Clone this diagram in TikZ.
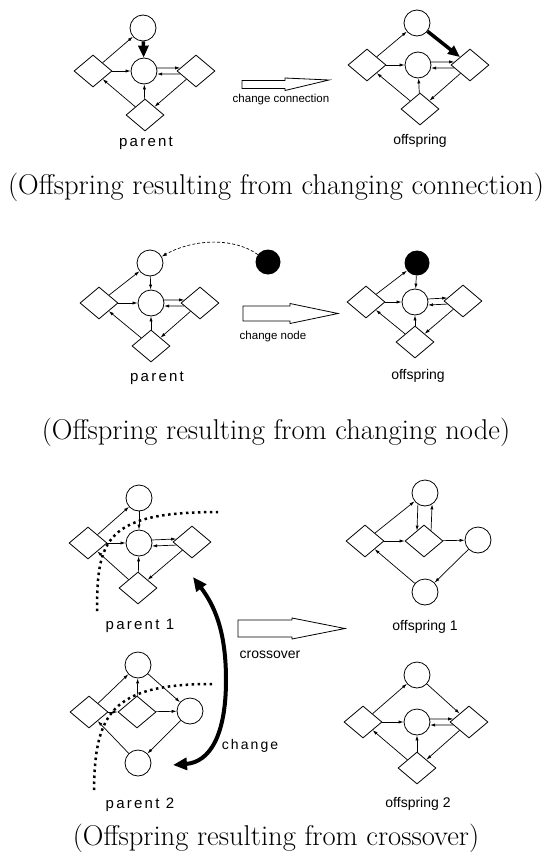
\documentclass[tikz,border=0pt]{standalone}
\usepackage{fontspec}
\usepackage{tikz}
\usetikzlibrary{positioning,arrows.meta,shapes.geometric}
\newfontfamily\lblfont{Liberation Sans}
\newfontfamily\lblfontwide[LetterSpace=15]{Liberation Sans}

\begin{document}
\begin{tikzpicture}[
  x=1pt, y=-1pt,
  cnode/.style={draw, circle, minimum size=26pt, inner sep=0pt, line width=0.8pt},
  dnode/.style={draw, diamond, minimum width=38pt, minimum height=32pt, inner sep=0pt, line width=0.8pt},
  bnode/.style={circle, fill=black, minimum size=25pt, inner sep=0pt},
  arr/.style={-{Latex[length=5pt,width=3.2pt]}, line width=0.7pt},
  fatarr/.style={-{Triangle[length=12pt,width=10pt]}, line width=3.5pt},
  dasharr/.style={-{Latex[length=5pt,width=3.5pt]}, line width=0.7pt, dash pattern=on 3pt off 2pt},
  dotline/.style={line width=2.5pt, dash pattern=on 2.5pt off 3.5pt},
  chgarr/.style={{Triangle[length=14pt,width=12pt]}-{Triangle[length=14pt,width=12pt]}, line width=4pt},
  hollow/.style={draw, line width=0.8pt, line join=miter},
  lbl/.style={font=\lblfont\fontsize{14}{16}\selectfont, inner sep=0pt},
  wlbl/.style={font=\lblfontwide\fontsize{15}{17}\selectfont, inner sep=0pt},
  slbl/.style={font=\lblfont\fontsize{11.5}{13}\selectfont, inner sep=0pt},
  captxt/.style={font=\fontsize{28.6}{34}\selectfont, inner sep=0pt}
]
\useasboundingbox (0,0) rectangle (551,859);

% ---- changing connection: parent
\node[cnode] (aTop) at (143,28) {};
\node[cnode] (aMid) at (144,71) {};
\node[dnode] (aL) at (93,71) {};
\node[dnode] (aR) at (196,71) {};
\node[dnode] (aB) at (145,115) {};
\foreach \a/\b in {aL/aTop, aL/aMid, aB/aMid, aB/aL, aR/aB}{\draw[arr] (\a) -- (\b);}
\draw[arr] (aMid.13) -- (aR.169);
\draw[arr] (aR.191) -- (aMid.-13);
\draw[fatarr] (aTop) -- (aMid);
\node[wlbl] (aLbl) at (146,143) {parent};
% offspring
\node[cnode] (bTop) at (417,23) {};
\node[cnode] (bMid) at (418,65) {};
\node[dnode] (bL) at (367,65) {};
\node[dnode] (bR) at (470,65) {};
\node[dnode] (bB) at (420,109) {};
\foreach \a/\b in {bL/bTop, bL/bMid, bB/bMid, bB/bL, bR/bB}{\draw[arr] (\a) -- (\b);}
\draw[arr] (bMid.13) -- (bR.169);
\draw[arr] (bR.191) -- (bMid.-13);
\draw[fatarr] (bTop) -- (bR);
\node[lbl] (bLbl) at (420,141) {offspring};
% step arrow
\draw[hollow] (242,80.5) -- (285,80.5) -- (285,78) -- (329,80) -- (285,90.5) -- (285,88.5) -- (242,88.5) -- cycle;
\node[slbl] (stepALbl) at (281,100) {change connection};
\node[captxt] (capA) at (276,187) {(Offspring resulting from changing connection)};

% ---- changing node: parent
\node[cnode] (cTop) at (150,263) {};
\node[cnode] (cMid) at (151,303) {};
\node[dnode] (cL) at (99,303) {};
\node[dnode] (cR) at (200,303) {};
\node[dnode] (cB) at (151,346) {};
\node[bnode] (cBlk) at (268,262) {};
\foreach \a/\b in {cL/cTop, cTop/cMid, cL/cMid, cB/cMid, cB/cL, cR/cB}{\draw[arr] (\a) -- (\b);}
\draw[arr] (cMid.13) -- (cR.169);
\draw[arr] (cR.191) -- (cMid.-13);
\draw[dasharr] (cBlk) .. controls (235,238) and (195,238) .. (cTop);
\node[wlbl] (cLbl) at (157,378) {parent};
% offspring
\node[bnode] (dTop) at (417,263) {};
\node[cnode] (dMid) at (415,302) {};
\node[dnode] (dL) at (366,302) {};
\node[dnode] (dR) at (463,301) {};
\node[dnode] (dB) at (415,342) {};
\foreach \a/\b in {dL/dTop, dTop/dMid, dL/dMid, dB/dMid, dB/dL, dR/dB}{\draw[arr] (\a) -- (\b);}
\draw[arr] (dMid.13) -- (dR.169);
\draw[arr] (dR.191) -- (dMid.-13);
\node[lbl] (dLbl) at (418,376) {offspring};
% step arrow
\draw[hollow] (243,306) -- (290,306) -- (290,303.5) -- (338,313.5) -- (290,323.5) -- (290,321) -- (243,321) -- cycle;
\node[slbl] (stepBLbl) at (273,337) {change node};
\node[captxt] (capB) at (276,432) {(Offspring resulting from changing node)};

% ---- crossover: parent 1
\node[cnode] (eTop) at (139,498) {};
\node[cnode] (eMid) at (139,543) {};
\node[dnode] (eL) at (88,543) {};
\node[dnode] (eR) at (192,542) {};
\node[dnode] (eB) at (138,588) {};
\foreach \a/\b in {eL/eTop, eTop/eMid, eL/eMid, eB/eMid, eB/eL, eR/eB}{\draw[arr] (\a) -- (\b);}
\draw[arr] (eMid.13) -- (eR.169);
\draw[arr] (eR.191) -- (eMid.-13);
\draw[dotline] (97,611) .. controls (97,540) and (105,512) .. (218,512);
\node[wlbl] (eLbl) at (140,626) {parent 1};
% parent 2
\node[cnode] (fTop) at (138,665) {};
\node[dnode] (fMid) at (137,712) {};
\node[dnode] (fL) at (89,712) {};
\node[cnode] (fR) at (190,711) {};
\node[cnode] (fB) at (138,763) {};
\foreach \a/\b in {fL/fTop, fMid/fTop, fTop/fR, fL/fMid, fMid/fR, fR/fB, fB/fL}{\draw[arr] (\a) -- (\b);}
\draw[dotline] (94,790) .. controls (95,715) and (110,684) .. (212,684);
\node[wlbl] (fLbl) at (140,805) {parent 2};
% swap arrow
\coordinate (chgTop) at (193,577);
\coordinate (chgBot) at (173,765);
\draw[chgarr] (chgTop) .. controls (214,605) and (226,630) .. (226,680) .. controls (226,735) and (210,762) .. (chgBot);
\node[wlbl, font=\lblfontwide\fontsize{14}{16}\selectfont] (chgLbl) at (250,746) {change};
% offspring 1
\node[cnode] (gTop) at (425,493) {};
\node[dnode] (gL) at (365,541) {};
\node[dnode] (gMid) at (424,541) {};
\node[cnode] (gR) at (478,540) {};
\node[cnode] (gB) at (425,592) {};
\foreach \a/\b in {gL/gTop, gL/gMid, gMid/gR, gR/gB, gB/gL}{\draw[arr] (\a) -- (\b);}
\draw[arr] (gTop.-122) -- (gMid.124);
\draw[arr] (gMid.56) -- (gTop.-58);
\node[lbl] (gLbl) at (425,627) {offspring 1};
% offspring 2
\node[cnode] (hTop) at (417,675) {};
\node[cnode] (hMid) at (417,722) {};
\node[dnode] (hL) at (363,722) {};
\node[dnode] (hR) at (469,722) {};
\node[dnode] (hB) at (417,768) {};
\foreach \a/\b in {hL/hTop, hTop/hR, hL/hMid, hB/hMid, hB/hL, hR/hB}{\draw[arr] (\a) -- (\b);}
\draw[arr] (hMid.13) -- (hR.169);
\draw[arr] (hR.191) -- (hMid.-13);
\node[lbl] (hLbl) at (418,804) {offspring 2};
% step arrow
\draw[hollow] (238,620) -- (292,620) -- (292,618) -- (345,628.5) -- (292,639) -- (292,637) -- (238,637) -- cycle;
\node[lbl] (stepCLbl) at (270,655) {crossover};
\node[captxt] (capC) at (276,838) {(Offspring resulting from crossover)};
\end{tikzpicture}
\end{document}
